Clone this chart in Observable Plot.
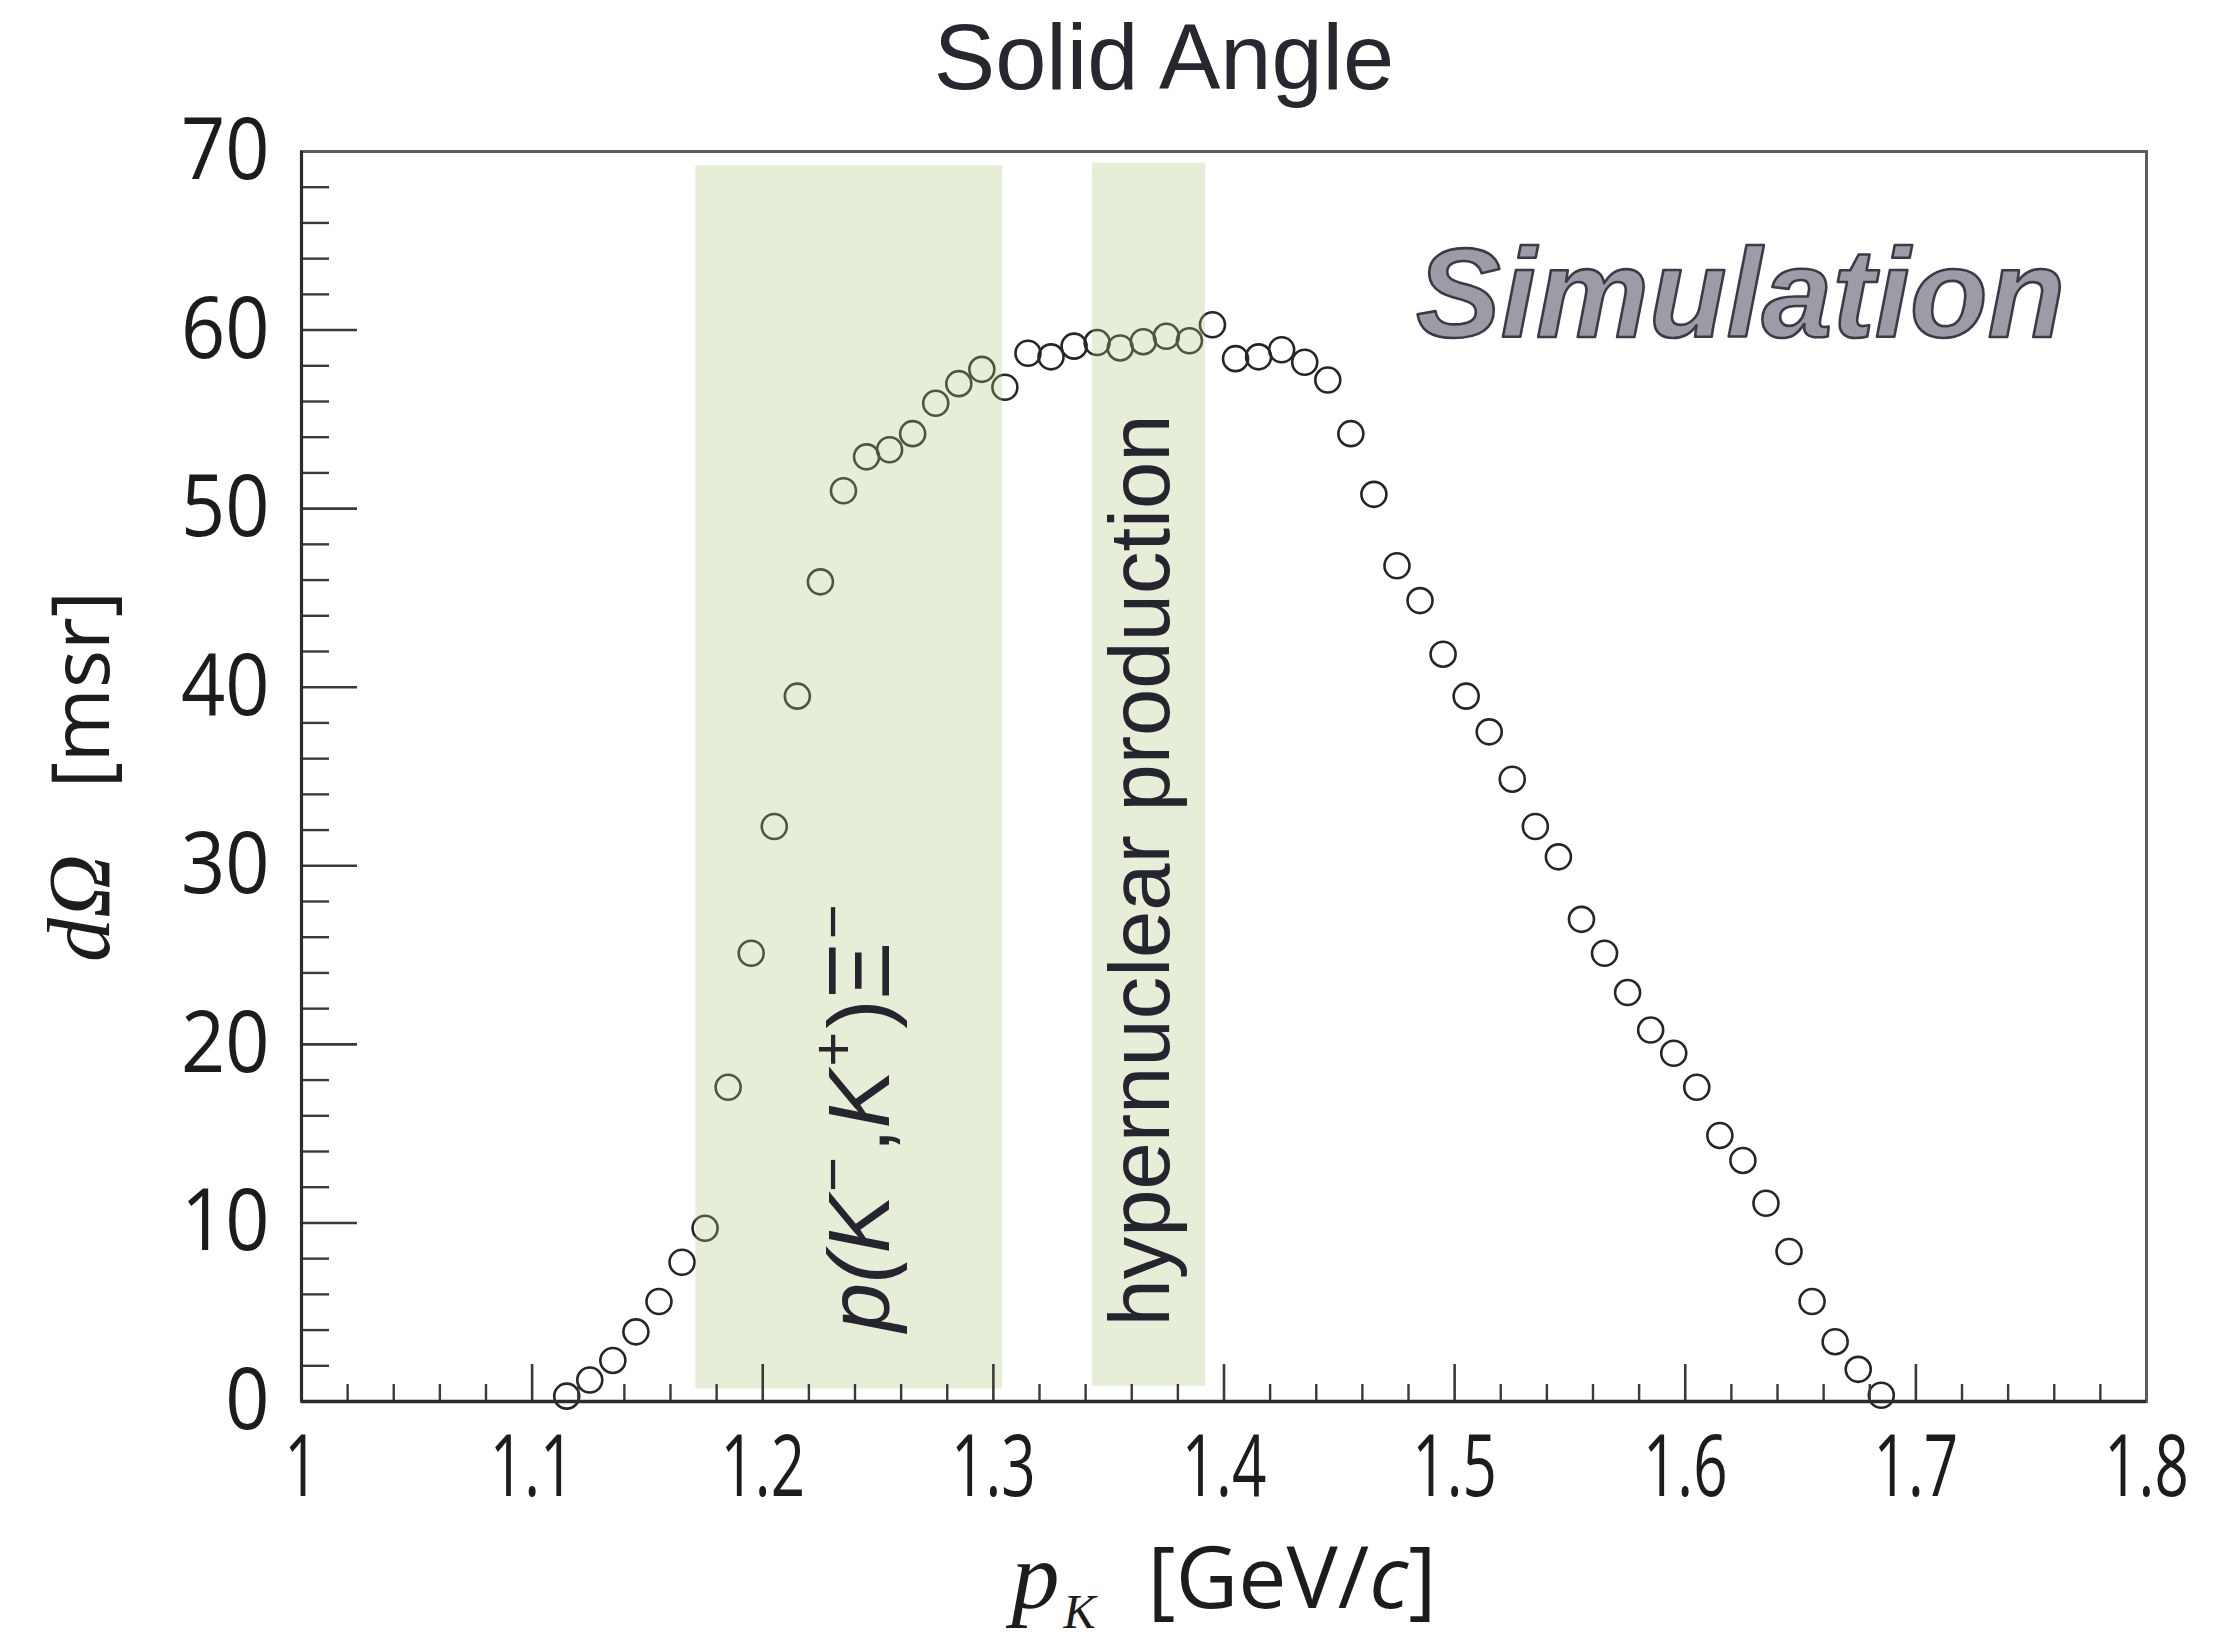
<!DOCTYPE html>
<html>
<head>
<meta charset="utf-8">
<script src="https://cdn.jsdelivr.net/npm/d3@7"></script>
<script src="https://cdn.jsdelivr.net/npm/@observablehq/plot@0.6"></script>
<style>
  body { margin: 0; background: #fff; }
  svg { display: block; }
</style>
</head>
<body>
<div id="chart"></div>
<script>
// Kaon momentum bin centres [GeV/c] and simulated solid angle [msr]
const momentum = [
  1.115, 1.125, 1.135, 1.145, 1.155, 1.165, 1.175, 1.185, 1.195, 1.205,
  1.215, 1.225, 1.235, 1.245, 1.255, 1.265, 1.275, 1.285, 1.295, 1.305,
  1.315, 1.325, 1.335, 1.345, 1.355, 1.365, 1.375, 1.385, 1.395, 1.405,
  1.415, 1.425, 1.435, 1.445, 1.455, 1.465, 1.475, 1.485, 1.495, 1.505,
  1.515, 1.525, 1.535, 1.545, 1.555, 1.565, 1.575, 1.585, 1.595, 1.605,
  1.615, 1.625, 1.635, 1.645, 1.655, 1.665, 1.675, 1.685
];
const solidAngle = [
  0.3, 1.2, 2.3, 3.9, 5.6, 7.8, 9.7, 17.6, 25.1, 32.2,
  39.5, 45.9, 51.0, 52.9, 53.3, 54.2, 55.9, 57.0, 57.8, 56.8,
  58.7, 58.5, 59.1, 59.3, 59.0, 59.35, 59.65, 59.4, 60.3, 58.4,
  58.5, 58.9, 58.2, 57.2, 54.2, 50.8, 46.8, 44.85, 41.85, 39.5,
  37.5, 34.85, 32.2, 30.5, 27.0, 25.1, 22.9, 20.8, 19.5, 17.6,
  14.9, 13.5, 11.1, 8.4, 5.6, 3.35, 1.8, 0.35
];

// Momentum windows used by the two physics programmes
const bandNames = ["p(K⁻,K⁺)Ξ⁻", "hypernuclear production"];
const bandFrom = [1.171, 1.343];
const bandTo = [1.304, 1.392];
const bandBottom = [0.7, 0.85];
const bandTop = [69.2, 69.35];

// Axis ticks
const xTicks = [1, 1.1, 1.2, 1.3, 1.4, 1.5, 1.6, 1.7, 1.8];
const yTicks = [0, 10, 20, 30, 40, 50, 60, 70];
const xMinorTicks = d3.range(0, 41).map(i => 1 + i * 0.02).filter((v, i) => i % 5 !== 0);
const yMinorTicks = d3.range(0, 36).map(i => i * 2).filter(v => v % 10 !== 0);

const titleText = "Solid Angle";
const tagText = "Simulation";
const xLabelText = "pK [GeV/c]";
const yLabelText = "dΩ [msr]";

const points = momentum.map((p, i) => ({p, v: solidAngle[i]}));
const bands = bandNames.map((name, i) => ({
  name, from: bandFrom[i], to: bandTo[i], bottom: bandBottom[i], top: bandTop[i]
}));

const sans = "'Liberation Sans', Arial, sans-serif";
const tickFont = "'Open Sans', 'Noto Sans', sans-serif";
const ink = "#1c1c1c";
const labelInk = "#25252f";

const chart = Plot.plot({
  width: 2228,
  height: 1638,
  marginTop: 151,
  marginRight: 82,
  marginBottom: 237,
  marginLeft: 301,
  x: {domain: [1, 1.8], label: null},
  y: {domain: [0, 70], label: null},
  style: {fontFamily: tickFont, background: "#fff", color: ink},
  marks: [
    // simulated points
    Plot.dot(points, {x: "p", y: "v", r: 12.5, fill: "none", stroke: "#262626", strokeWidth: 2.6}),
    // shaded momentum windows
    Plot.rect(bands, {x1: "from", x2: "to", y1: "bottom", y2: "top",
      fill: "rgb(172,198,125)", fillOpacity: 0.3}),
    // minor ticks
    Plot.axisX({ticks: xMinorTicks, tickSize: -17, stroke: "#3a3a3a", strokeWidth: 2.4, fill: "none", label: null}),
    Plot.axisY({ticks: yMinorTicks, tickSize: -28, stroke: "#3a3a3a", strokeWidth: 2.4, fill: "none", label: null}),
    // major ticks with labels
    Plot.axisX({ticks: xTicks, tickSize: -37, tickPadding: 70, tickFormat: d => String(d),
      stroke: "#3a3a3a", strokeWidth: 2.6, fill: ink, fontSize: 86, label: null}),
    Plot.axisY({ticks: yTicks, tickSize: -56, tickPadding: 88, tickFormat: d => String(d),
      stroke: "#3a3a3a", strokeWidth: 2.6, fill: ink, fontSize: 86, label: null}),
    // frame and axis lines
    Plot.frame({stroke: "#5c5c5c", strokeWidth: 3}),
    Plot.ruleY([0], {stroke: "#2c2c2c", strokeWidth: 3.6}),
    Plot.ruleX([1], {stroke: "#2c2c2c", strokeWidth: 3.2}),
    // window labels
    Plot.text([bandNames[0]], {x: 1.2546, y: 3.9, text: d => d, rotate: -90, textAnchor: "start",
      lineAnchor: "bottom", fontFamily: sans, fontSize: 88, fill: labelInk}),
    Plot.text([bandNames[1]], {x: 1.376, y: 4.2, text: d => d, rotate: -90, textAnchor: "start",
      lineAnchor: "bottom", fontFamily: sans, fontSize: 85, fill: labelInk}),
    // tag
    Plot.text([tagText], {x: 1.624, y: 59.6, text: d => d, textAnchor: "middle", lineAnchor: "bottom",
      fontFamily: sans, fontWeight: "bold", fontStyle: "italic", fontSize: 127,
      fill: "#9b9ca6", stroke: "#3a3a48", strokeWidth: 2.6, paintOrder: "normal"}),
    // title and axis labels
    Plot.text([titleText], {frameAnchor: "top", dx: -60, dy: -63, text: d => d, lineAnchor: "bottom",
      fontFamily: sans, fontSize: 92, fill: "#27272f"}),
    Plot.text([xLabelText], {frameAnchor: "bottom", dy: 206, text: d => d, lineAnchor: "bottom",
      fontSize: 86, fill: ink}),
    Plot.text([yLabelText], {frameAnchor: "left", dx: -193, rotate: -90, text: d => d,
      textAnchor: "middle", lineAnchor: "bottom", fontSize: 80, fill: ink})
  ]
});

document.getElementById("chart").appendChild(chart);

// Narrower glyphs for the tick labels
chart.querySelectorAll('g[aria-label="x-axis tick label"] text').forEach(t => {
  t.setAttribute("transform", (t.getAttribute("transform") || "") + " scale(0.7,1)");
});
chart.querySelectorAll('g[aria-label="y-axis tick label"] text').forEach(t => {
  t.setAttribute("transform", (t.getAttribute("transform") || "") + " scale(0.9,1)");
});

// Mixed-style text: italics, sub- and superscripts
function richText(content, parts) {
  chart.querySelectorAll("text").forEach(t => {
    if (t.textContent !== content) return;
    t.textContent = "";
    for (const part of parts) {
      const s = document.createElementNS("http://www.w3.org/2000/svg", "tspan");
      for (const [k, v] of Object.entries(part.attrs || {})) s.setAttribute(k, v);
      s.textContent = part.text;
      t.appendChild(s);
    }
  });
}
const serifItalic = {"font-family": "'Liberation Serif', 'DejaVu Serif', serif", "font-style": "italic"};
const italic = {"font-style": "italic"};
const sup = {"font-size": "60", dy: "-36", dx: "3"};
const back = {dy: "36"};

richText(bandNames[0], [
  {text: "p(K", attrs: italic},
  {text: "−", attrs: sup},
  {text: ",", attrs: {...back, dx: "4"}},
  {text: "K", attrs: italic},
  {text: "+", attrs: sup},
  {text: ")Ξ", attrs: {...back, dx: "3"}},
  {text: "−", attrs: sup}
]);

richText(xLabelText, [
  {text: "p", attrs: {...serifItalic, "font-size": "96"}},
  {text: "K", attrs: {...serifItalic, "font-size": "48", dy: "20", dx: "4"}},
  {text: "[GeV/", attrs: {dy: "-20", dx: "52"}},
  {text: "c", attrs: italic},
  {text: "]"}
]);

richText(yLabelText, [
  {text: "dΩ", attrs: {...serifItalic, "font-size": "88"}},
  {text: "[msr]", attrs: {dx: "66"}}
]);
</script>
</body>
</html>
